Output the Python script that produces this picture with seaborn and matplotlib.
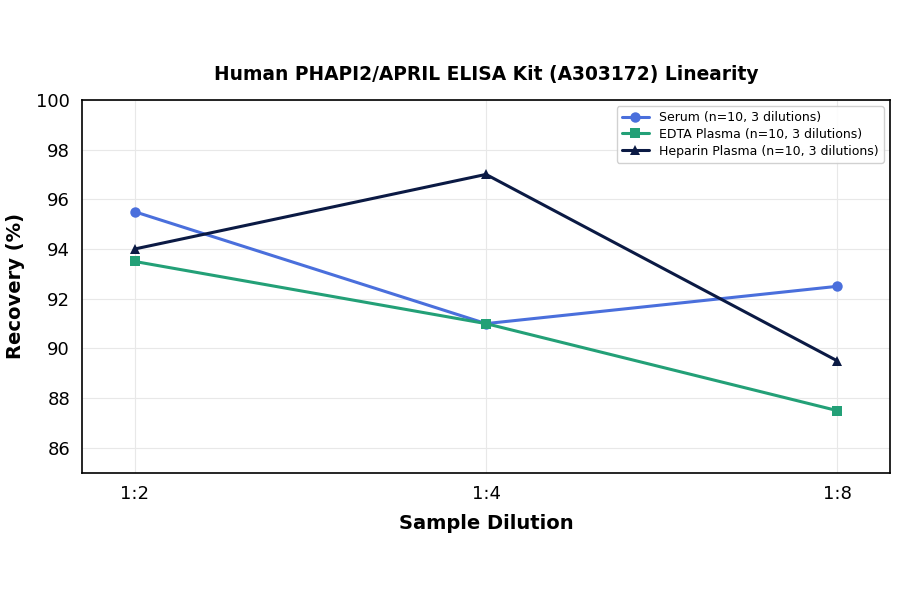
import pandas as pd
import matplotlib
matplotlib.use("Agg")
import matplotlib.pyplot as plt
import seaborn as sns

# values
dilutions = ["1:2", "1:4", "1:8"]
serum = [95.5, 91.0, 92.5]
edta = [93.5, 91.0, 87.5]
heparin = [94.0, 97.0, 89.5]

series_names = ["Serum (n=10, 3 dilutions)", "EDTA Plasma (n=10, 3 dilutions)", "Heparin Plasma (n=10, 3 dilutions)"]
colors = ["#4A6FDC", "#23A077", "#0B1A44"]
markers = ["o", "s", "^"]

df = pd.DataFrame({
    "dilution": dilutions * 3,
    "recovery": serum + edta + heparin,
    "sample": [series_names[0]] * 3 + [series_names[1]] * 3 + [series_names[2]] * 3,
})

sns.set_style("white")
plt.rcParams.update({"text.color": "black", "axes.labelcolor": "black",
                     "xtick.color": "black", "ytick.color": "black"})
fig, ax = plt.subplots(figsize=(9, 5.94), dpi=100)

sns.lineplot(data=df, x="dilution", y="recovery", hue="sample", style="sample",
             palette=colors, markers=markers, dashes=False, linewidth=2.2,
             markersize=7.5, markeredgewidth=0, sort=False, ax=ax)

ax.set_ylim(85, 100)
ax.set_yticks([86, 88, 90, 92, 94, 96, 98, 100])
ax.set_xlim(-0.15, 2.15)
ax.grid(True, color="#e8e8e8", linewidth=0.8)
ax.set_axisbelow(True)
for s in ax.spines.values():
    s.set_color("black")
    s.set_linewidth(1.2)
ax.tick_params(axis="both", labelsize=13, length=5, width=1, color="black", direction="out")

ax.set_title("Human PHAPI2/APRIL ELISA Kit (A303172) Linearity", fontsize=13.4,
             fontweight="bold", pad=14, color="black")
ax.set_xlabel("Sample Dilution", fontsize=14, fontweight="bold", labelpad=8)
ax.set_ylabel("Recovery (%)", fontsize=14, fontweight="bold", labelpad=8)

ax.legend(title=None, loc="upper right", fontsize=9, frameon=True, framealpha=0.9,
          borderpad=0.4, labelspacing=0.3, handlelength=2.2)

fig.subplots_adjust(left=0.091, right=0.989, top=0.832, bottom=0.204)
fig.savefig("out.png", dpi=100)
